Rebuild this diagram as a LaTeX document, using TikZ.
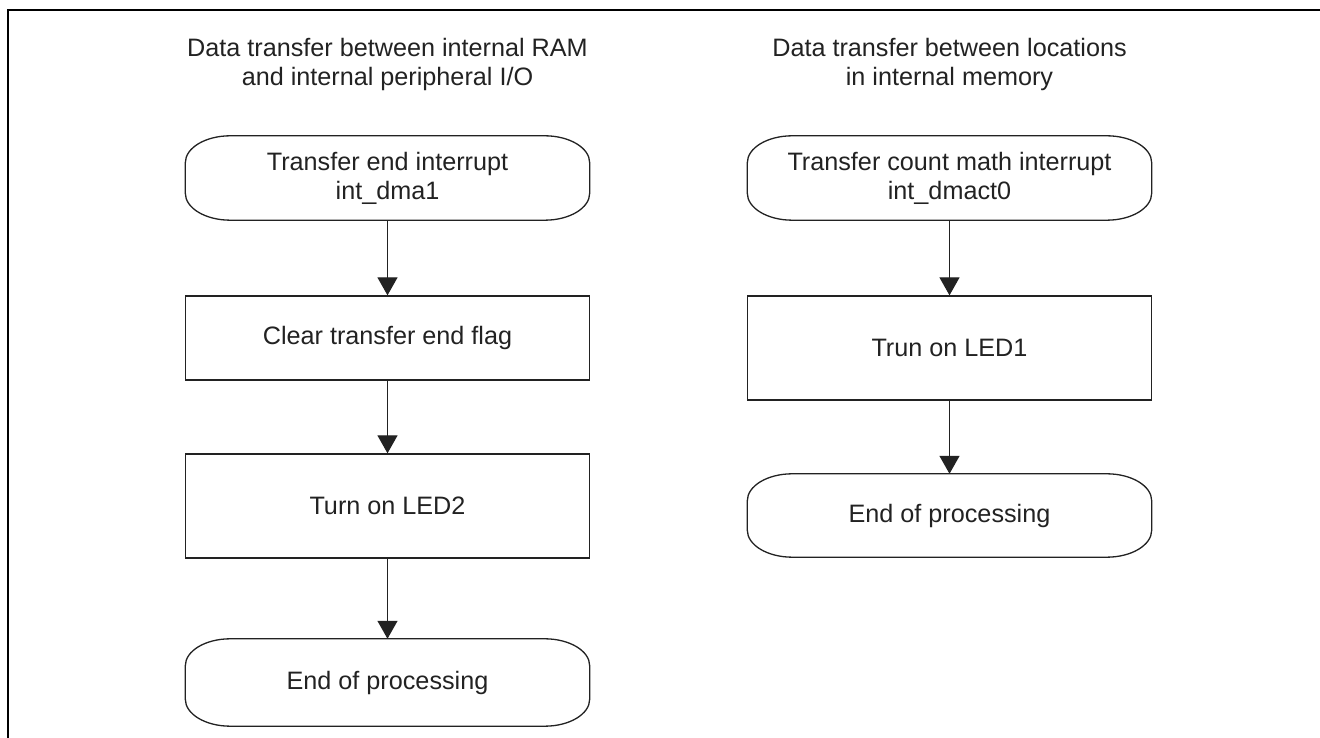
\documentclass[tikz,border=0pt]{standalone}
\usepackage{fontspec}
\setmainfont{Liberation Sans}
\usetikzlibrary{arrows.meta}
\definecolor{ink}{HTML}{222222}
\tikzset{
  x=1pt,y=1pt,
  every node/.style={font=\fontsize{25.2}{29}\selectfont, text=ink, align=center, inner sep=0pt},
  procbox/.style={draw=ink, line width=1.3pt, rectangle, minimum width=404pt},
  termbox/.style={rectangle, minimum width=404pt},
  flow/.style={draw=ink, line width=1.3pt, -{Triangle[length=18pt,width=20pt]}},
  frame/.style={draw=black, line width=2.4pt},
}
\newcommand{\termoutline}[1]{%
  \draw[ink, line width=1.3pt]
    ([xshift=45pt]#1.north west) -- ([xshift=-45pt]#1.north east)
    arc[start angle=90, end angle=0, x radius=45pt, y radius=27pt]
    -- ([yshift=27pt]#1.south east)
    arc[start angle=0, end angle=-90, x radius=45pt, y radius=27pt]
    -- ([xshift=45pt]#1.south west)
    arc[start angle=270, end angle=180, x radius=45pt, y radius=27pt]
    -- ([yshift=-27pt]#1.north west)
    arc[start angle=180, end angle=90, x radius=45pt, y radius=27pt]
    -- cycle;}
\begin{document}
\begin{tikzpicture}
\useasboundingbox (0,0) rectangle (1320,738);
% frame
\coordinate (fl) at (8,0);
\coordinate (fc) at (8,728);
\coordinate (fr) at (1320,728);
\draw[frame] (fl) -- (fc) -- (fr);

% titles
\node (title1) at (387.5,674) {Data transfer between internal RAM\\and internal peripheral I/O};
\node (title2) at (949.5,674) {Data transfer between locations\\in internal memory};

% left column
\node[termbox, minimum height=84pt] (t1) at (387.5,560) {Transfer end interrupt\\int\_dma1};
\node[procbox, minimum height=84pt] (b1) at (387.5,400) {Clear transfer end flag};
\node[procbox, minimum height=104pt] (b2) at (387.5,232) {Turn on LED2};
\node[termbox, minimum height=87pt] (e1) at (387.5,55.5) {End of processing};
\termoutline{t1}
\termoutline{e1}
\draw[flow] (t1) -- (b1);
\draw[flow] (b1) -- (b2);
\draw[flow] (b2) -- (e1);

% right column
\node[termbox, minimum height=84pt] (t2) at (949.5,560) {Transfer count math interrupt\\int\_dmact0};
\node[procbox, minimum height=104pt] (b3) at (949.5,390) {Trun on LED1};
\node[termbox, minimum height=83pt] (e2) at (949.5,222.5) {End of processing};
\termoutline{t2}
\termoutline{e2}
\draw[flow] (t2) -- (b3);
\draw[flow] (b3) -- (e2);
\end{tikzpicture}
\end{document}
